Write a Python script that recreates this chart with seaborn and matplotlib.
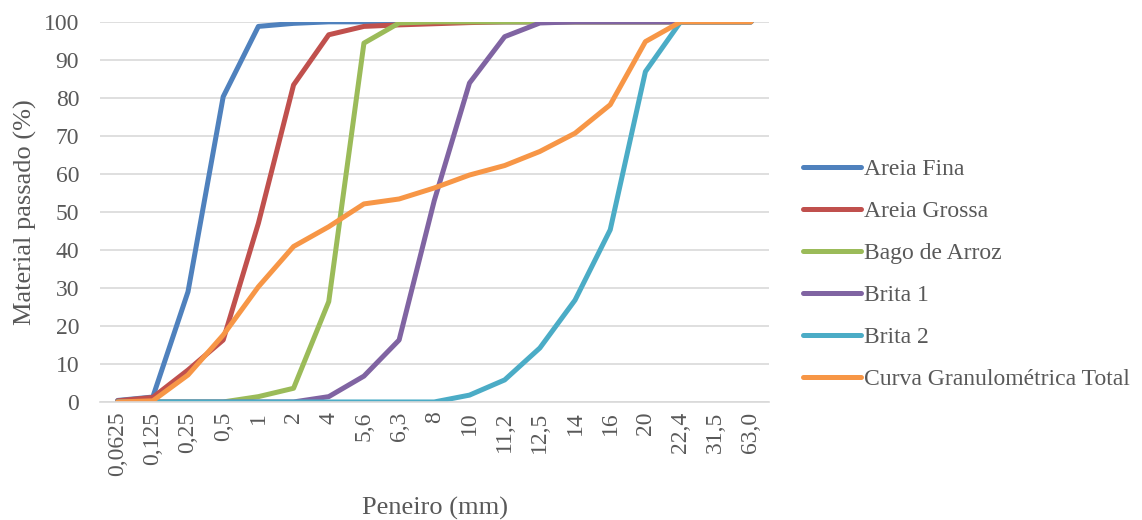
import matplotlib
matplotlib.use("Agg")
import matplotlib.pyplot as plt
import seaborn as sns
import pandas as pd

# Sieve openings (mm), as printed on the axis
peneiros = ["0,0625", "0,125", "0,25", "0,5", "1", "2", "4", "5,6", "6,3", "8",
            "10", "11,2", "12,5", "14", "16", "20", "22,4", "31,5", "63,0"]

# Percent passing for each material
areia_fina = [0.4, 1.3, 29.0, 80.3, 98.8, 99.6, 100, 100, 100, 100,
              100, 100, 100, 100, 100, 100, 100, 100, 100]
areia_grossa = [0.3, 1.2, 8.4, 16.3, 47.0, 83.4, 96.6, 98.8, 99.2, 99.5,
                99.8, 100, 100, 100, 100, 100, 100, 100, 100]
bago_de_arroz = [0, 0, 0, 0, 1.4, 3.6, 26.4, 94.4, 99.7, 100,
                 100, 100, 100, 100, 100, 100, 100, 100, 100]
brita_1 = [0, 0, 0, 0, 0, 0, 1.4, 6.8, 16.3, 53.0,
           83.9, 96.1, 99.7, 100, 100, 100, 100, 100, 100]
brita_2 = [0, 0, 0, 0, 0, 0, 0, 0, 0, 0,
           1.8, 5.8, 14.2, 26.8, 45.3, 86.9, 100, 100, 100]
curva_total = [0, 0.3, 7.1, 17.6, 30.3, 40.9, 46.1, 52.1, 53.4, 56.3,
               59.7, 62.2, 65.9, 70.7, 78.2, 94.8, 100, 100, 100]

series = {
    "Areia Fina": areia_fina,
    "Areia Grossa": areia_grossa,
    "Bago de Arroz": bago_de_arroz,
    "Brita 1": brita_1,
    "Brita 2": brita_2,
    "Curva Granulométrica Total": curva_total,
}
cores = ["#4F81BD", "#C0504D", "#9BBB59", "#8064A2", "#4BACC6", "#F79646"]

rows = []
for nome, vals in series.items():
    for i, v in enumerate(vals):
        rows.append({"pos": i, "Peneiro": peneiros[i], "valor": v, "serie": nome})
df = pd.DataFrame(rows)

sns.set_theme(style="white")
plt.rcParams["font.family"] = ["Liberation Serif", "DejaVu Serif"]
texto = "#595959"
fs = 17

fig = plt.figure(figsize=(11.42, 5.2), dpi=100)
ax = fig.add_axes([0.0876, 0.227, 0.673 - 0.0876, 0.958 - 0.227])

sns.lineplot(data=df, x="pos", y="valor", hue="serie", palette=cores,
             linewidth=3.6, ax=ax, legend=True, sort=False)

ax.set_xlim(-0.5, len(peneiros) - 0.5)
ax.set_ylim(0, 100)
ax.set_yticks(range(0, 101, 10))
ax.set_xticks(range(len(peneiros)))
ax.set_xticklabels(peneiros, rotation=90, fontsize=fs, color=texto)
ax.tick_params(axis="y", labelsize=fs, labelcolor=texto, length=0, pad=15)
ax.tick_params(axis="x", length=0, pad=7)
ax.grid(axis="y", color="#d9d9d9", linewidth=1.2)
ax.set_axisbelow(True)
for s in ["top", "right", "left"]:
    ax.spines[s].set_visible(False)
ax.spines["bottom"].set_color("#d9d9d9")
ax.spines["bottom"].set_linewidth(1.2)

ax.set_ylabel("Material passado (%)", fontsize=19, color=texto, va="center")
ax.yaxis.set_label_coords(-0.112, 0.5)
ax.set_xlabel("Peneiro (mm)", fontsize=19, color=texto, va="center")
ax.xaxis.set_label_coords(0.501, -0.279)

handles, labels = ax.get_legend_handles_labels()
ax.legend(handles, labels, loc="center left", bbox_to_anchor=(0.703, 0.472),
          bbox_transform=fig.transFigure, frameon=False, fontsize=fs,
          handlelength=2.45, handletextpad=0.12, labelspacing=0.87,
          borderpad=0, borderaxespad=0, labelcolor=texto)

fig.savefig("out.png", dpi=100)
